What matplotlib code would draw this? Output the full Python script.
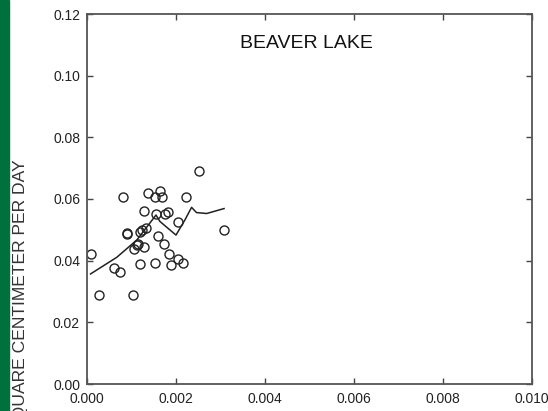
import matplotlib
matplotlib.use("Agg")
import matplotlib.pyplot as plt
from matplotlib.patches import Rectangle

plt.rcParams['font.family'] = ['Liberation Sans', 'DejaVu Sans']

# Observed points
obs_x = [0.00008, 0.00028, 0.00080, 0.00061, 0.00075, 0.00089, 0.00090, 0.00103,
         0.00106, 0.00115, 0.00119, 0.00128, 0.00133, 0.00119, 0.00128, 0.00138,
         0.00153, 0.00164, 0.00168, 0.00155, 0.00175, 0.00181, 0.00159, 0.00153,
         0.00174, 0.00184, 0.00189, 0.00205, 0.00205, 0.00216, 0.00223, 0.00252,
         0.00308, 0.00124, 0.00112]
obs_y = [0.0422, 0.0289, 0.0605, 0.0377, 0.0364, 0.0491, 0.0487, 0.0289,
         0.0437, 0.0454, 0.0494, 0.0443, 0.0507, 0.0388, 0.0561, 0.0621,
         0.0605, 0.0626, 0.0608, 0.0551, 0.0551, 0.0559, 0.0480, 0.0391,
         0.0454, 0.0422, 0.0386, 0.0527, 0.0404, 0.0393, 0.0608, 0.0692,
         0.0501, 0.0500, 0.0450]

# Fitted / smoothed line
line_x = [0.00008, 0.00067, 0.00112, 0.00145, 0.00155, 0.00164, 0.00200,
          0.00220, 0.00235, 0.00246, 0.00269, 0.00308]
line_y = [0.0357, 0.0411, 0.0467, 0.0529, 0.0548, 0.0527, 0.0483,
          0.0532, 0.0573, 0.0556, 0.0553, 0.0569]

xticks = [0.000, 0.002, 0.004, 0.006, 0.008, 0.010]
xticklabels = ["0.000", "0.002", "0.004", "0.006", "0.008", "0.010"]
yticks = [0.00, 0.02, 0.04, 0.06, 0.08, 0.10, 0.12]
yticklabels = ["0.00", "0.02", "0.04", "0.06", "0.08", "0.10", "0.12"]

W, H = 548, 411
fig = plt.figure(figsize=(W / 100, H / 100), dpi=100)
ax = fig.add_axes([87 / W, 1 - 384 / H, (532 - 87) / W, (384 - 14) / H])

ax.plot(line_x, line_y, color='#222222', lw=1.1)
ax.plot(obs_x, obs_y, linestyle='none', marker='o', markersize=6.5,
        markerfacecolor='none', markeredgecolor='#222222', markeredgewidth=1.0)

ax.set_xlim(0, 0.010)
ax.set_ylim(0, 0.12)
ax.set_xticks(xticks)
ax.set_xticklabels(xticklabels)
ax.set_yticks(yticks)
ax.set_yticklabels(yticklabels)
ax.tick_params(direction='in', length=4, width=1, colors='#444444',
               labelcolor='#222222', labelsize=10, top=True, right=True)
ax.tick_params(axis='x', pad=6)
ax.tick_params(axis='y', pad=5)
for s in ax.spines.values():
    s.set_color('#555555')
    s.set_linewidth(1.3)

ax.text((240 - 87) / (532 - 87), (384 - 44) / (384 - 14), "BEAVER LAKE",
        transform=ax.transAxes, fontsize=14, color='#111111',
        ha='left', va='center')

fig.patches.append(Rectangle((0, 0), 9 / W, 1, transform=fig.transFigure,
                             color='#00703c', zorder=0))
fig.text(21 / W, 1 - 159 / H, "SQUARE CENTIMETER PER DAY", rotation=90,
         ha='center', va='top', fontsize=12.6, color='#333333')

fig.savefig("out.png", dpi=100)
